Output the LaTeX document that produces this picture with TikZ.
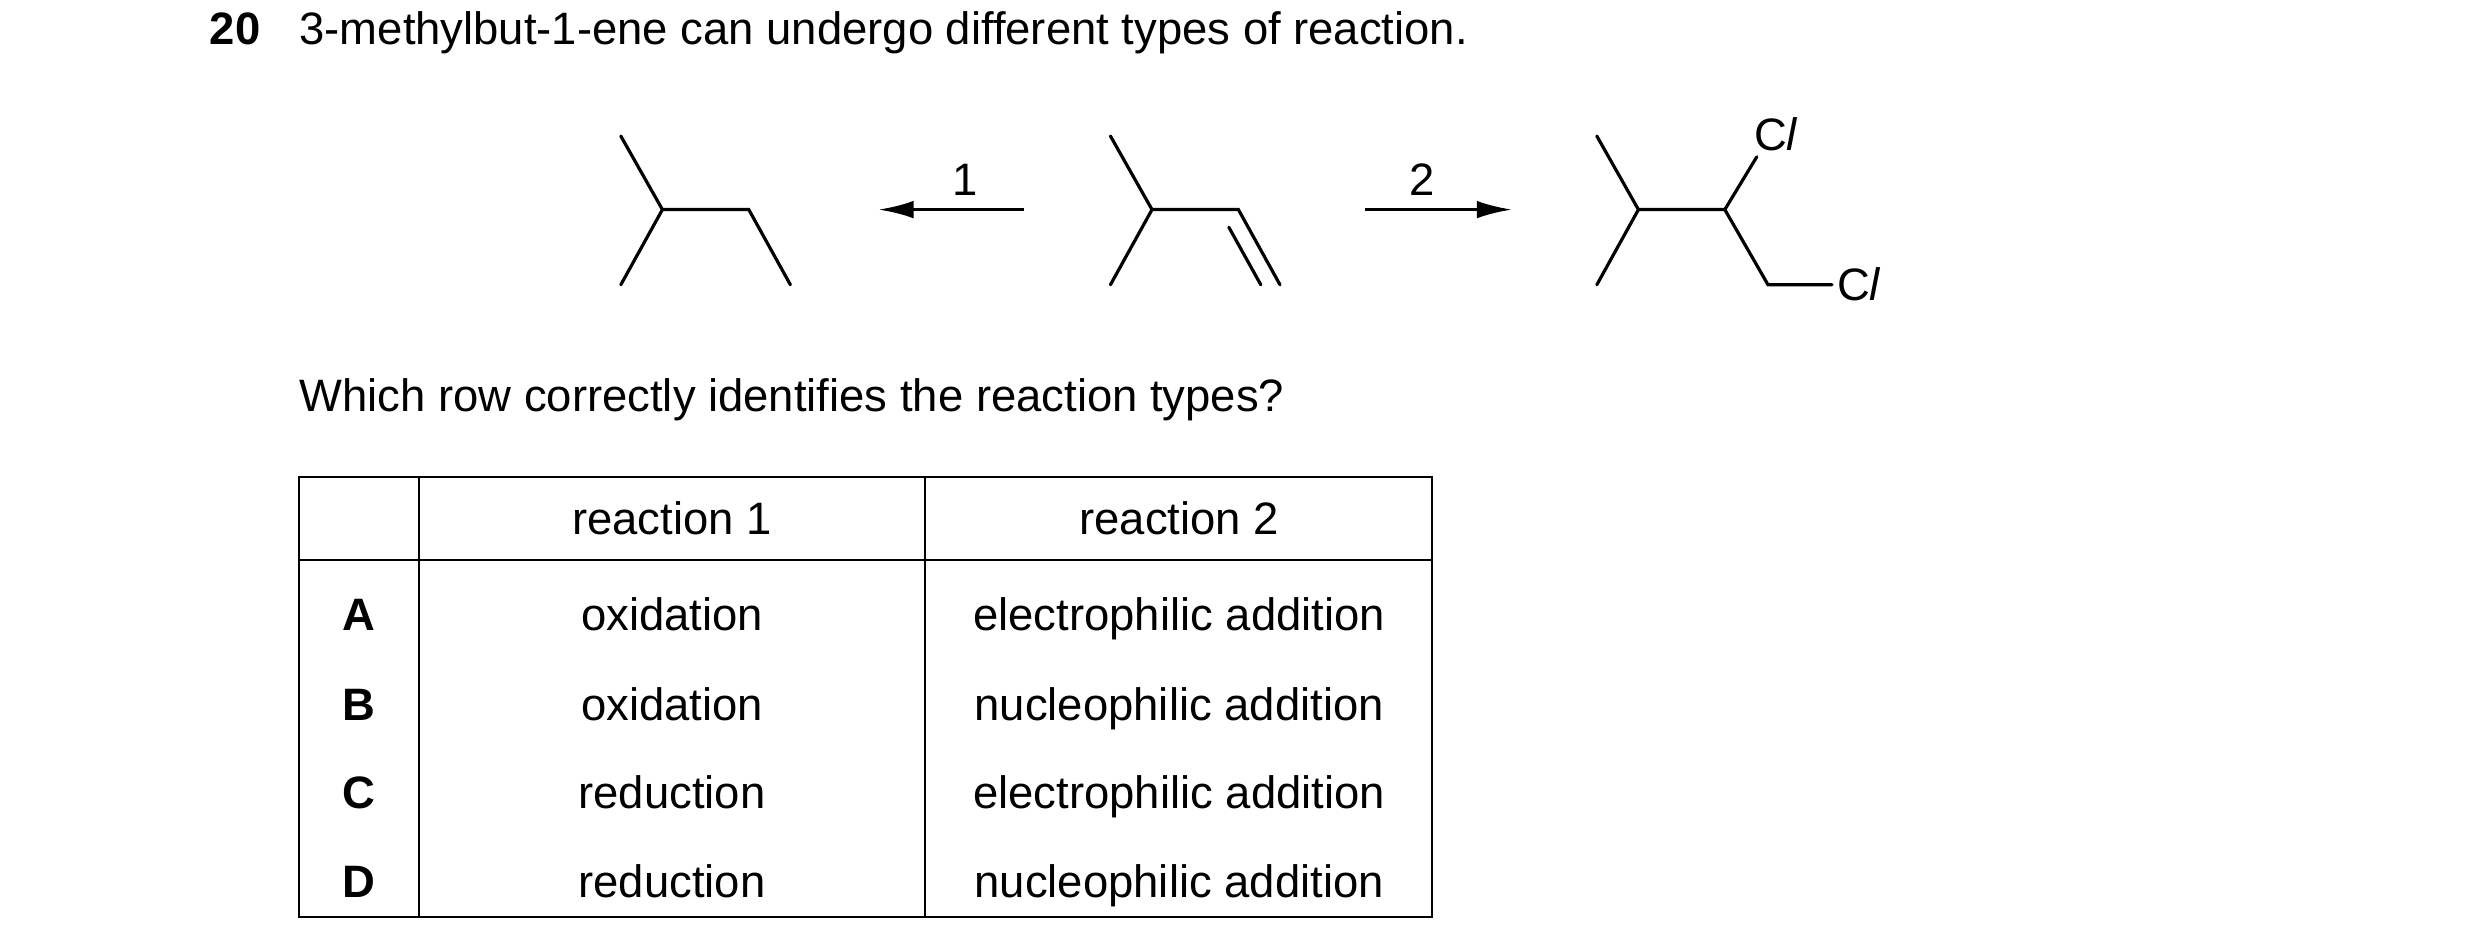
\documentclass[tikz,border=0pt]{standalone}
\usepackage{fontspec}
\setmainfont{Liberation Sans}
\usetikzlibrary{arrows.meta}
\begin{document}
\begin{tikzpicture}[x=1bp,y=-1bp,
  bond/.style={line width=2bp,line cap=round},
  rxn/.style={line width=2bp,-{Latex[length=22bp,width=11bp]}},
  txt/.style={font=\fontsize{28.5}{34}\selectfont,inner sep=0},
  tbl/.style={line width=1.3bp}]
\useasboundingbox (0,0) rectangle (1550,592);
% header
\node[txt,anchor=base west,font=\fontsize{28.5}{34}\selectfont\bfseries] (num) at (131,28) {20};
\node[txt,anchor=base west] (q) at (187,28) {3-methylbut-1-ene can undergo different types of reaction.};
% molecule 1
\draw[bond] (388,85) -- (414,131) -- (388,178) (414,131) -- (468,131) -- (494,178);
% molecule 2
\draw[bond] (694,85) -- (720,131) -- (694,178) (720,131) -- (774,131) -- (800,178) (768,142) -- (788,178);
% molecule 3
\draw[bond] (998,85) -- (1024,131) -- (998,178) (1024,131) -- (1078,131) -- (1098,98) (1078,131) -- (1105,178) -- (1145,178);
\node[txt,anchor=base] (cl1) at (1110,94) {C\textit{l}};
\node[txt,anchor=base west] (cl2) at (1148,188) {C\textit{l}};
% arrows
\coordinate (a1s) at (640,131); \coordinate (a1e) at (549,131);
\coordinate (a2s) at (853,131); \coordinate (a2e) at (945,131);
\draw[rxn] (a1s) -- (a1e);
\draw[rxn] (a2s) -- (a2e);
\node[txt,anchor=base] (l1) at (603,122) {1};
\node[txt,anchor=base] (l2) at (889,122) {2};
% question
\node[txt,anchor=base west] (w) at (187,257) {Which row correctly identifies the reaction types?};
% table
\draw[tbl] (187,298) rectangle (895,573);
\draw[tbl] (187,350) -- (895,350);
\draw[tbl] (262,298) -- (262,573) (578,298) -- (578,573);
\node[txt,anchor=base] (h1) at (420,334) {reaction 1};
\node[txt,anchor=base] (h2) at (737,334) {reaction 2};
\foreach \l/\a/\b/\y in {A/oxidation/electrophilic addition/394,B/oxidation/nucleophilic addition/450,C/reduction/electrophilic addition/505,D/reduction/nucleophilic addition/561}{
  \node[txt,anchor=base,font=\fontsize{28.5}{34}\selectfont\bfseries] (r\l) at (224,\y) {\l};
  \node[txt,anchor=base] (r\l1) at (420,\y) {\a};
  \node[txt,anchor=base] (r\l2) at (737,\y) {\b};
}
\end{tikzpicture}
\end{document}
